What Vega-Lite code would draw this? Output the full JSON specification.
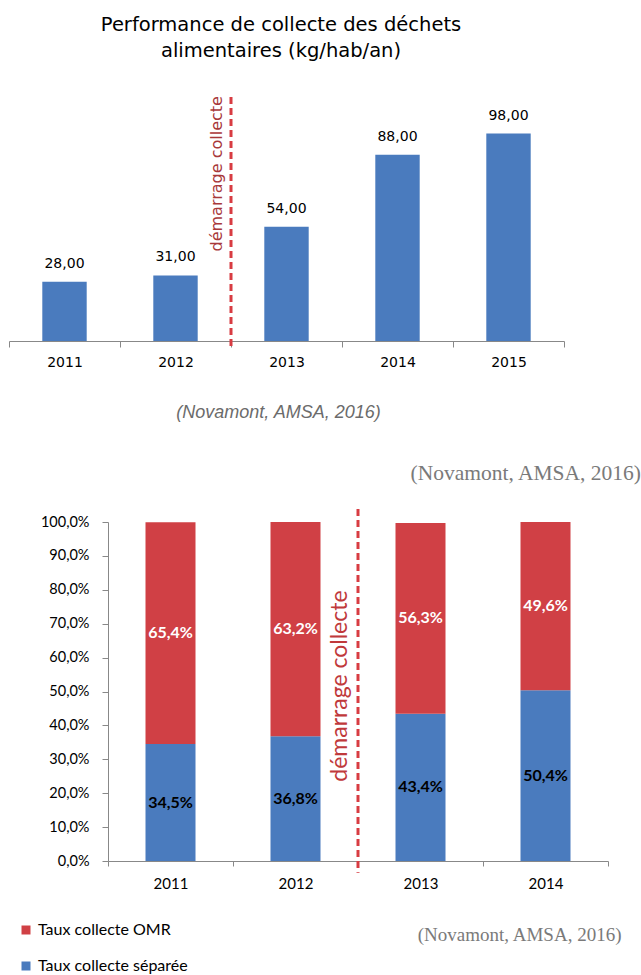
{
  "$schema": "https://vega.github.io/schema/vega-lite/v6.json",
  "padding": {"left": 8, "top": 14, "right": 0, "bottom": 0},
  "config": {
    "locale": {"number": {"decimal": ",", "thousands": " ", "grouping": [3], "currency": ["", " €"]}},
    "view": {"stroke": null},
    "axis": {"grid": false}
  },
  "datasets": {
    "perf": [
      {"year": "2011", "kg": 28},
      {"year": "2012", "kg": 31},
      {"year": "2013", "kg": 54},
      {"year": "2014", "kg": 88},
      {"year": "2015", "kg": 98}
    ],
    "taux": [
      {"year": "2011", "type": "Taux collecte séparée", "share": 0.345},
      {"year": "2011", "type": "Taux collecte OMR", "share": 0.654},
      {"year": "2012", "type": "Taux collecte séparée", "share": 0.368},
      {"year": "2012", "type": "Taux collecte OMR", "share": 0.632},
      {"year": "2013", "type": "Taux collecte séparée", "share": 0.434},
      {"year": "2013", "type": "Taux collecte OMR", "share": 0.563},
      {"year": "2014", "type": "Taux collecte séparée", "share": 0.504},
      {"year": "2014", "type": "Taux collecte OMR", "share": 0.496}
    ],
    "start": [{"year": "2013", "event": "démarrage collecte"}]
  },
  "columns": 1,
  "align": "none",
  "bounds": "full",
  "spacing": 42,
  "resolve": {"scale": {"color": "independent"}, "legend": {"color": "independent"}},
  "concat": [
    {
      "width": 456,
      "height": 254,
      "title": {
        "text": ["Performance de collecte des déchets", "alimentaires (kg/hab/an)"],
        "font": "DejaVu Sans", "fontSize": 19.5, "fontWeight": "normal", "color": "#000",
        "lineHeight": 26, "offset": 26, "anchor": "middle", "frame": "group", "dx": -55
      },
      "layer": [
        {
          "data": {"name": "perf"},
          "mark": {"type": "bar", "width": {"band": 0.4}, "color": "#4a7bbe"},
          "encoding": {
            "x": {
              "field": "year", "type": "ordinal",
              "scale": {"paddingInner": 0, "paddingOuter": 0, "range": [-99, 456]},
              "axis": {
                "title": "(Novamont, AMSA, 2016)",
                "titleFont": "Liberation Sans", "titleFontStyle": "italic", "titleFontWeight": "normal",
                "titleFontSize": 18, "titleColor": "#6b6b6b", "titlePadding": 34, "titleX": 170,
                "labelFont": "DejaVu Sans", "labelFontSize": 14, "labelColor": "#000",
                "labelAngle": 0, "labelPadding": 8, "tickBand": "extent", "tickSize": 6,
                "tickColor": "#888", "domainColor": "#888"
              }
            },
            "y": {"field": "kg", "type": "quantitative", "scale": {"domain": [0, 120], "nice": false}, "axis": null}
          }
        },
        {
          "data": {"name": "perf"},
          "mark": {"type": "text", "font": "DejaVu Sans", "fontSize": 14, "dy": -14, "baseline": "alphabetic", "color": "#000"},
          "encoding": {
            "x": {"field": "year", "type": "ordinal"},
            "y": {"field": "kg", "type": "quantitative"},
            "text": {"field": "kg", "type": "quantitative", "format": ".2f"}
          }
        },
        {
          "data": {"name": "start"},
          "mark": {"type": "rule", "strokeDash": [7, 4], "strokeWidth": 3, "color": "#d83c42"},
          "encoding": {
            "x": {"field": "year", "type": "ordinal", "bandPosition": 0},
            "y": {"datum": -2.4},
            "y2": {"datum": 117}
          }
        },
        {
          "data": {"name": "start"},
          "mark": {"type": "text", "angle": 270, "baseline": "bottom", "align": "center", "dy": -6, "font": "DejaVu Sans", "fontSize": 16, "color": "#a8383a"},
          "encoding": {
            "x": {"field": "year", "type": "ordinal", "bandPosition": 0},
            "y": {"datum": 79},
            "text": {"field": "event"}
          }
        }
      ]
    },
    {
      "width": 500,
      "height": 339,
      "title": {
        "text": "(Novamont, AMSA, 2016)",
        "font": "Liberation Serif", "fontSize": 21.5, "fontWeight": "normal", "color": "#7a7a7a",
        "anchor": "end", "frame": "group", "dx": 33, "offset": 23
      },
      "layer": [
        {
          "data": {"name": "taux"},
          "mark": {"type": "bar", "width": {"band": 0.4}},
          "encoding": {
            "x": {
              "field": "year", "type": "ordinal",
              "scale": {"paddingInner": 0, "paddingOuter": 0},
              "axis": {
                "title": "(Novamont, AMSA, 2016)",
                "titleFont": "Liberation Serif", "titleFontSize": 19, "titleFontWeight": "normal",
                "titleColor": "#7a7a7a", "titleX": 513, "titleY": 73, "titleAlign": "right",
                "titleAnchor": "end", "titleBaseline": "middle",
                "labelFont": "Lato", "labelFontSize": 15, "labelColor": "#000", "labelAngle": 0,
                "labelPadding": 10, "tickBand": "extent", "tickSize": 5,
                "tickColor": "#888", "domainColor": "#888"
              }
            },
            "y": {
              "field": "share", "type": "quantitative", "stack": "zero",
              "scale": {"domain": [0, 1], "nice": false},
              "axis": {
                "values": [0, 0.1, 0.2, 0.3, 0.4, 0.5, 0.6, 0.7, 0.8, 0.9, 1],
                "format": ".1%", "title": null, "labelOverlap": false, "tickCount": 20,
                "labelFont": "Lato", "labelFontSize": 14.5, "labelColor": "#000",
                "labelPadding": 13, "tickSize": 6, "tickColor": "#888", "domainColor": "#888"
              }
            },
            "color": {
              "field": "type", "type": "nominal",
              "scale": {"domain": ["Taux collecte OMR", "Taux collecte séparée"], "range": ["#d04045", "#4a7bbe"]},
              "legend": {
                "orient": "none", "legendX": -99, "legendY": 391, "padding": 9, "title": null,
                "direction": "vertical", "symbolType": "square", "symbolSize": 81, "symbolStrokeWidth": 0,
                "labelFont": "Lato", "labelFontSize": 16, "labelColor": "#000", "rowPadding": 20
              }
            },
            "order": {"field": "type", "sort": "descending"}
          }
        },
        {
          "data": {"name": "taux"},
          "mark": {"type": "text", "font": "Lato", "fontSize": 16, "fontWeight": "bold", "baseline": "middle"},
          "encoding": {
            "x": {"field": "year", "type": "ordinal"},
            "y": {
              "field": "share", "type": "quantitative", "stack": "zero", "bandPosition": 0.5,
              "axis": {
                "values": [0, 0.1, 0.2, 0.3, 0.4, 0.5, 0.6, 0.7, 0.8, 0.9, 1],
                "format": ".1%", "title": null, "labelOverlap": false, "tickCount": 20,
                "labelFont": "Lato", "labelFontSize": 14.5, "labelColor": "#000",
                "labelPadding": 13, "tickSize": 6, "tickColor": "#888", "domainColor": "#888"
              }
            },
            "detail": {"field": "type"},
            "order": {"field": "type", "sort": "descending"},
            "text": {"field": "share", "type": "quantitative", "format": ".1%"},
            "color": {"condition": {"test": "datum.type === 'Taux collecte OMR'", "value": "#ffffff"}, "value": "#000000"}
          }
        },
        {
          "data": {"name": "start"},
          "mark": {"type": "rule", "strokeDash": [7, 4], "strokeWidth": 3, "color": "#d83c42"},
          "encoding": {
            "x": {"field": "year", "type": "ordinal", "bandPosition": 0},
            "y": {"datum": 1.038},
            "y2": {"datum": -0.035}
          }
        },
        {
          "data": {"name": "start"},
          "mark": {"type": "text", "angle": 270, "baseline": "bottom", "align": "center", "dy": -6, "font": "Lato", "fontSize": 23, "color": "#c0393b"},
          "encoding": {
            "x": {"field": "year", "type": "ordinal", "bandPosition": 0},
            "y": {"datum": 0.516},
            "text": {"field": "event"}
          }
        }
      ]
    }
  ]
}
